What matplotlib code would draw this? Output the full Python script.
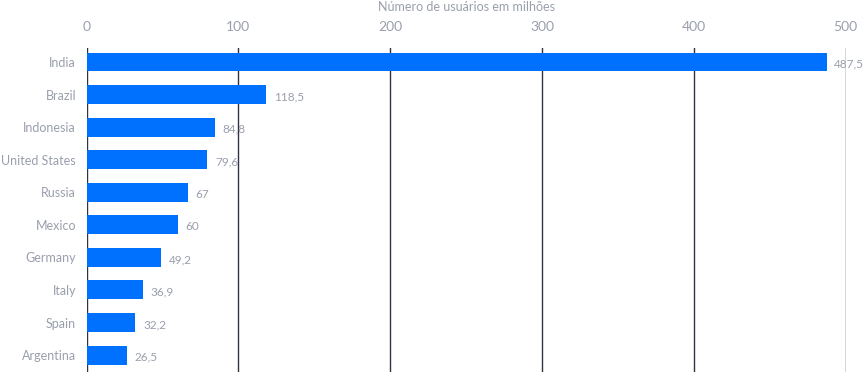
import matplotlib.pyplot as plt

countries = ["India", "Brazil", "Indonesia", "United States", "Russia",
             "Mexico", "Germany", "Italy", "Spain", "Argentina"]
users = [487.5, 118.5, 84.8, 79.6, 67, 60, 49.2, 36.9, 32.2, 26.5]
value_labels = ["487,5", "118,5", "84,8", "79,6", "67", "60", "49,2", "36,9", "32,2", "26,5"]
xticks = [0, 100, 200, 300, 400, 500]

grey = "#9a9fad"
plt.rcParams["font.family"] = ["Lato", "DejaVu Sans"]

fig = plt.figure(figsize=(8.64, 3.72), dpi=100)
ax = fig.add_axes([86.5 / 864, 0, (845.5 - 86.5) / 864, 324 / 372])

ypos = list(range(len(countries)))
ax.barh(ypos, users, height=0.58, color="#0070ff", zorder=3)

for y, v, lab in zip(ypos, users, value_labels):
    ax.annotate(lab, (v, y), xytext=(5.5, -1.5), textcoords="offset points",
                ha="left", va="center", color=grey, fontsize=8.5,
                annotation_clip=False, zorder=4)

ax.set_xlim(0, 500)
ax.set_ylim(9.52, -0.43)
ax.set_xticks(xticks)
ax.set_yticks(ypos)
ax.set_yticklabels(countries)
ax.xaxis.tick_top()
ax.xaxis.set_label_position("top")
ax.set_xlabel("Número de usuários em milhões", color=grey, fontsize=9, labelpad=7)
ax.tick_params(axis="x", length=0, pad=11, labelcolor=grey, labelsize=10)
ax.tick_params(axis="y", length=0, pad=7.5, labelcolor=grey, labelsize=9)
ax.grid(axis="x", color="#2d3340", linewidth=1, zorder=1)
for s in ax.spines.values():
    s.set_visible(False)

fig.savefig("out.png", dpi=100)
